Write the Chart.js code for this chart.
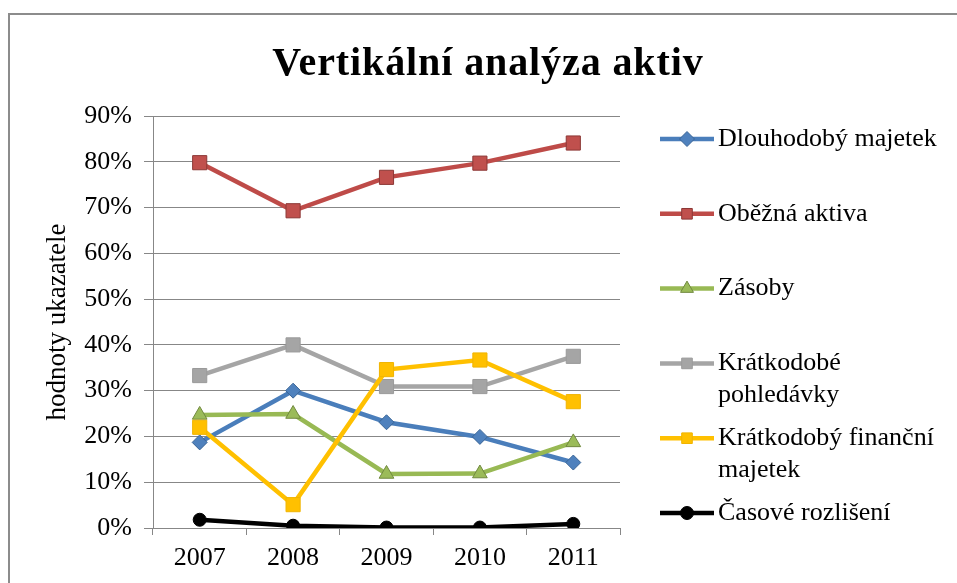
<!DOCTYPE html>
<html>
<head>
<meta charset="utf-8">
<title>Vertikální analýza aktiv</title>
<script src="https://cdn.jsdelivr.net/npm/chart.js"></script>
<style>
    html, body { margin: 0; padding: 0; background: #fff; overflow: hidden; }
    #frame { position: absolute; left: 8px; top: 13px; width: 1000px; height: 700px; border: 2px solid #8c8c8c; }
    #wrap { position: absolute; left: 0; top: 0; width: 957px; height: 583px; }
</style>
</head>
<body>
<div id="frame"></div>
<div id="wrap"><canvas id="chart" width="957" height="583"></canvas></div>
<script>
// ---- data (percent of total assets) ----
const chartTitle = 'Vertikální analýza aktiv';
const yAxisTitle = 'hodnoty ukazatele';
const years = ['2007', '2008', '2009', '2010', '2011'];
const seriesNames = ['Dlouhodobý majetek', 'Oběžná aktiva', 'Zásoby', 'Krátkodobé pohledávky', 'Krátkodobý finanční majetek', 'Časové rozlišení'];

const dlouhodobyMajetek = [18.7, 30.0, 23.1, 19.9, 14.3];
const obeznaAktiva = [79.8, 69.3, 76.6, 79.7, 84.1];
const zasoby = [24.7, 24.9, 11.8, 11.9, 18.7];
const kratkodobePohledavky = [33.3, 40.0, 30.9, 30.9, 37.5];
const kratkodobyFinancni = [22.0, 5.1, 34.6, 36.7, 27.6];
const casoveRozliseni = [1.8, 0.5, 0.1, 0.1, 0.9];

const yMin = 0;
const yMax = 90;
const yStep = 10;

// ---- styles ----
const serif = '"Liberation Serif", "Times New Roman", serif';
const lineColors = ['#4A7EBB', '#BE4B48', '#98B954', '#A5A5A5', '#FFC000', '#000000'];
const markerFill = ['#4F81BD', '#C0504D', '#9BBB59', '#A5A5A5', '#FFC000', '#000000'];
const markerBorder = ['#3A6596', '#8C3836', '#71893F', '#9A9A9A', '#F0B400', '#000000'];
const markerStyle = ['rectRot', 'rect', 'triangle', 'rect', 'rect', 'circle'];
const markerRadius = [7.5, 10, 8.5, 10, 10, 6.5];
const gridColor = '#878787';

const seriesValues = [dlouhodobyMajetek, obeznaAktiva, zasoby, kratkodobePohledavky, kratkodobyFinancni, casoveRozliseni];

const datasets = seriesValues.map((values, i) => ({
    label: seriesNames[i],
    data: values,
    borderColor: lineColors[i],
    backgroundColor: markerFill[i],
    borderWidth: 4.5,
    tension: 0,
    pointStyle: markerStyle[i],
    pointRadius: markerRadius[i],
    pointHoverRadius: markerRadius[i],
    pointBackgroundColor: markerFill[i],
    pointBorderColor: markerBorder[i],
    pointBorderWidth: 1,
    order: seriesValues.length - i   // later series on top, like the original
}));

// wrap legend text to the available width
function wrapText(ctx, text, maxWidth) {
    const words = text.split(' ');
    const lines = [];
    let line = '';
    words.forEach(w => {
        const test = line ? line + ' ' + w : w;
        if (line && ctx.measureText(test).width > maxWidth) {
            lines.push(line);
            line = w;
        } else {
            line = test;
        }
    });
    if (line) lines.push(line);
    return lines;
}

// Title and right-hand legend (Excel style: line + marker, wrapped labels)
const titleAndLegend = {
    id: 'titleAndLegend',
    afterDraw(chart) {
        const ctx = chart.ctx;
        const area = chart.chartArea;
        ctx.save();

        ctx.font = 'bold 40px ' + serif;
        ctx.fillStyle = '#000';
        ctx.textAlign = 'center';
        ctx.textBaseline = 'alphabetic';
        if ('letterSpacing' in ctx) ctx.letterSpacing = '0.9px';
        ctx.fillText(chartTitle, 488, 75);
        if ('letterSpacing' in ctx) ctx.letterSpacing = '0px';

        const lineX0 = area.right + 40;
        const lineX1 = lineX0 + 54;
        const textX = lineX1 + 4;
        const rowTop = 139;
        const rowStep = 74.8;
        const lineGap = 32;

        ctx.font = '26px ' + serif;
        ctx.textAlign = 'left';
        ctx.textBaseline = 'middle';

        chart.data.datasets.forEach((ds, i) => {
            const y = rowTop + i * rowStep;
            ctx.strokeStyle = ds.borderColor;
            ctx.lineWidth = 4.5;
            ctx.beginPath();
            ctx.moveTo(lineX0, y);
            ctx.lineTo(lineX1, y);
            ctx.stroke();

            ctx.fillStyle = ds.pointBackgroundColor;
            ctx.strokeStyle = ds.pointBorderColor;
            ctx.lineWidth = 1;
            Chart.helpers.drawPoint(ctx, {
                pointStyle: ds.pointStyle,
                radius: Math.min(ds.pointRadius, 7.5),
                borderWidth: 1,
                rotation: 0
            }, (lineX0 + lineX1) / 2, y);

            ctx.fillStyle = '#000';
            const lines = wrapText(ctx, ds.label, chart.width - textX - 8);
            lines.forEach((t, k) => ctx.fillText(t, textX, y + k * lineGap));
        });

        ctx.restore();
    }
};

new Chart(document.getElementById('chart'), {
    type: 'line',
    data: { labels: years, datasets: datasets },
    options: {
        responsive: false,
        animation: false,
        layout: { padding: { left: 20, top: 116, right: 337, bottom: 0 } },
        plugins: {
            legend: { display: false },
            title: { display: false },
            tooltip: { enabled: false }
        },
        scales: {
            x: {
                offset: true,
                afterFit: scale => { scale.height = 55; },
                grid: {
                    offset: true,
                    drawOnChartArea: false,
                    drawTicks: true,
                    tickLength: 7,
                    color: gridColor,
                    lineWidth: 1
                },
                border: { display: true, color: gridColor, width: 1 },
                ticks: {
                    padding: 8,
                    color: '#000',
                    font: { family: serif, size: 26 }
                }
            },
            y: {
                min: yMin,
                max: yMax,
                afterFit: scale => { scale.width = 133; },
                grid: {
                    color: gridColor,
                    lineWidth: 1,
                    drawTicks: true,
                    tickLength: 9
                },
                border: { display: true, color: gridColor, width: 1 },
                ticks: {
                    stepSize: yStep,
                    padding: 12,
                    color: '#000',
                    font: { family: serif, size: 26 },
                    callback: v => v + '%'
                },
                title: {
                    display: true,
                    text: yAxisTitle,
                    color: '#000',
                    font: { family: serif, size: 27 },
                    padding: { top: 22, bottom: 0 }
                }
            }
        }
    },
    plugins: [titleAndLegend]
});
</script>
</body>
</html>
